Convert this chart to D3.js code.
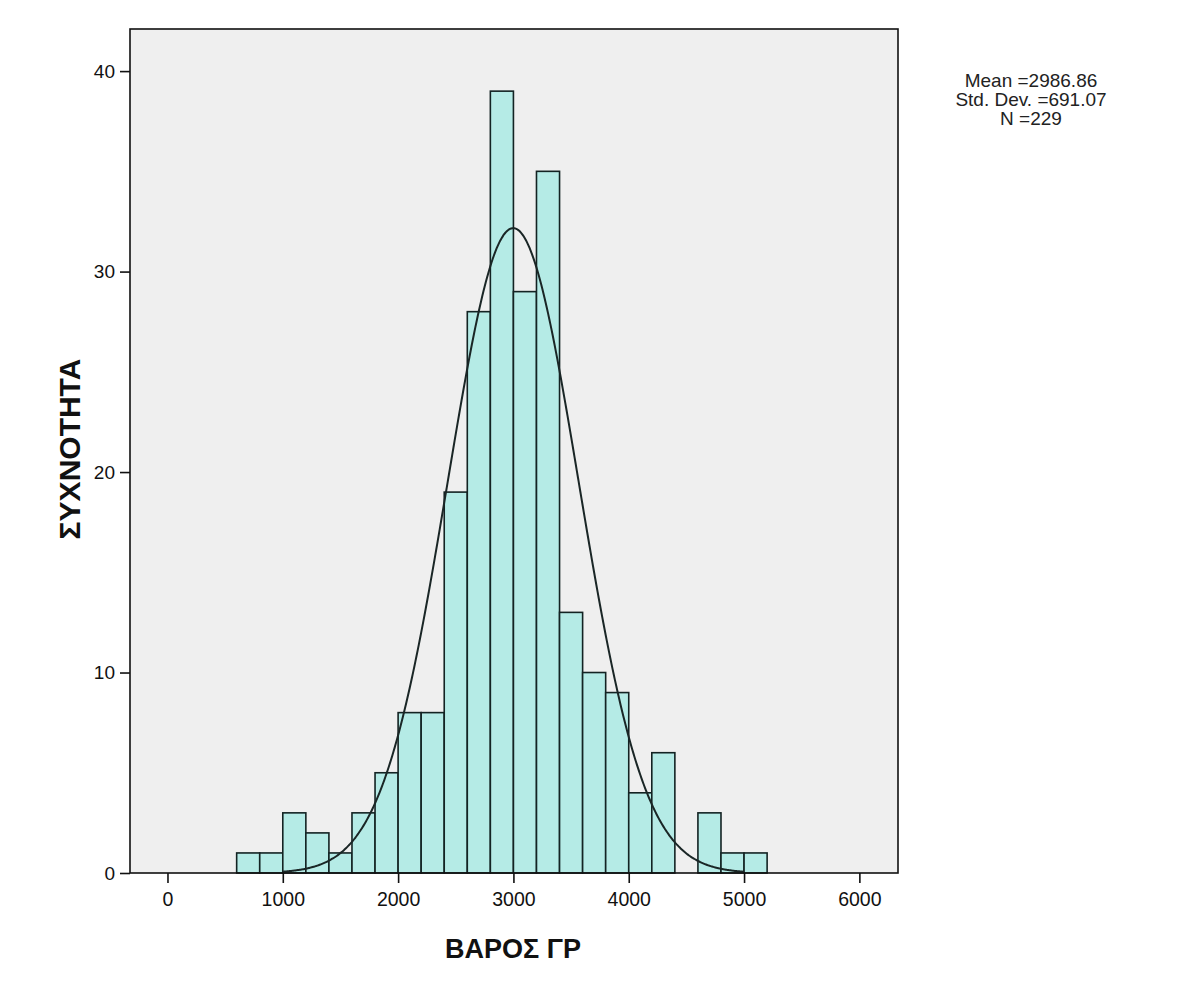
<!DOCTYPE html>
<html>
<head>
<meta charset="utf-8">
<script src="https://cdn.jsdelivr.net/npm/d3@7"></script>
<style>
  html, body { margin: 0; padding: 0; background: #ffffff; }
  svg { display: block; }
</style>
</head>
<body>
<svg id="chart" width="1196" height="986"></svg>
<script>
// ---- data ----
const binStarts = [600, 800, 1000, 1200, 1400, 1600, 1800, 2000, 2200, 2400, 2600, 2800,
                   3000, 3200, 3400, 3600, 3800, 4000, 4200, 4400, 4600, 4800, 5000];
const binWidth = 200;
const counts = [1, 1, 3, 2, 1, 3, 5, 8, 8, 19, 28, 39,
                29, 35, 13, 10, 9, 4, 6, 0, 3, 1, 1];
const xTicks = [0, 1000, 2000, 3000, 4000, 5000, 6000];
const yTicks = [0, 10, 20, 30, 40];
const statsLines = ["Mean =2986.86", "Std. Dev. =691.07", "N =229"];
const xTitle = "ΒΑΡΟΣ ΓΡ";
const yTitle = "ΣΥΧΝΟΤΗΤΑ";
// fitted normal curve as drawn in the picture
const curveMean = 2998;
const curveSd = 568;
const curveN = 229;
const curveRange = [1000, 5000];

// ---- layout ----
const svg = d3.select("#chart");
const pLeft = 130, pRight = 898, pTop = 29, pBottom = 873;

const x = d3.scaleLinear().domain([-325, 6335]).range([pLeft, pRight]);
const y = d3.scaleLinear().domain([0, 42.1]).range([pBottom, pTop]);

// plot background
svg.append("rect")
  .attr("x", pLeft).attr("y", pTop)
  .attr("width", pRight - pLeft).attr("height", pBottom - pTop)
  .attr("fill", "#efefef");

// bars
const bars = binStarts.map((s, i) => ({x0: s, x1: s + binWidth, c: counts[i]})).filter(d => d.c > 0);
svg.append("g").selectAll("rect").data(bars).join("rect")
  .attr("x", d => x(d.x0))
  .attr("y", d => y(d.c))
  .attr("width", d => x(d.x1) - x(d.x0))
  .attr("height", d => y(0) - y(d.c))
  .attr("fill", "#b5ebe6")
  .attr("stroke", "#132323")
  .attr("stroke-width", 1.6);

// normal curve
const pdf = v => curveN * binWidth / (curveSd * Math.sqrt(2 * Math.PI)) *
  Math.exp(-0.5 * Math.pow((v - curveMean) / curveSd, 2));
const curvePts = d3.range(curveRange[0], curveRange[1] + 0.1, 10).map(v => [v, pdf(v)]);
svg.append("path")
  .datum(curvePts)
  .attr("d", d3.line().x(d => x(d[0])).y(d => y(d[1])).curve(d3.curveBasis))
  .attr("fill", "none")
  .attr("stroke", "#1a2626")
  .attr("stroke-width", 2);

// frame
svg.append("rect")
  .attr("x", pLeft).attr("y", pTop)
  .attr("width", pRight - pLeft).attr("height", pBottom - pTop)
  .attr("fill", "none")
  .attr("stroke", "#111")
  .attr("stroke-width", 1.6);

// axes
const xAxis = d3.axisBottom(x).tickValues(xTicks).tickSize(10).tickPadding(9).tickFormat(d3.format("d"));
const gx = svg.append("g").attr("transform", `translate(0,${pBottom})`).call(xAxis);
gx.select(".domain").remove();
gx.selectAll("line").attr("stroke", "#111").attr("stroke-width", 1.6);
gx.selectAll("text").attr("font-family", "Liberation Sans, Arial, sans-serif")
  .attr("font-size", 19.5).attr("fill", "#111");

const yAxis = d3.axisLeft(y).tickValues(yTicks).tickSize(10).tickPadding(5).tickFormat(d3.format("d"));
const gy = svg.append("g").attr("transform", `translate(${pLeft},0)`).call(yAxis);
gy.select(".domain").remove();
gy.selectAll("line").attr("stroke", "#111").attr("stroke-width", 1.6);
gy.selectAll("text").attr("font-family", "Liberation Sans, Arial, sans-serif")
  .attr("font-size", 19).attr("fill", "#111");

// axis titles
svg.append("text")
  .attr("x", 513).attr("y", 958)
  .attr("text-anchor", "middle")
  .attr("font-family", "Liberation Sans, Arial, sans-serif")
  .attr("font-weight", "bold").attr("font-size", 27).attr("fill", "#111")
  .text(xTitle);

svg.append("text")
  .attr("transform", "translate(80,449) rotate(-90)")
  .attr("text-anchor", "middle")
  .attr("font-family", "Liberation Sans, Arial, sans-serif")
  .attr("font-weight", "bold").attr("font-size", 30).attr("fill", "#111")
  .text(yTitle);

// stats text
svg.append("g").selectAll("text").data(statsLines).join("text")
  .attr("x", 1031)
  .attr("y", (d, i) => 87 + i * 19)
  .attr("text-anchor", "middle")
  .attr("font-family", "Liberation Sans, Arial, sans-serif")
  .attr("font-size", 19).attr("fill", "#222")
  .text(d => d);
</script>
</body>
</html>
